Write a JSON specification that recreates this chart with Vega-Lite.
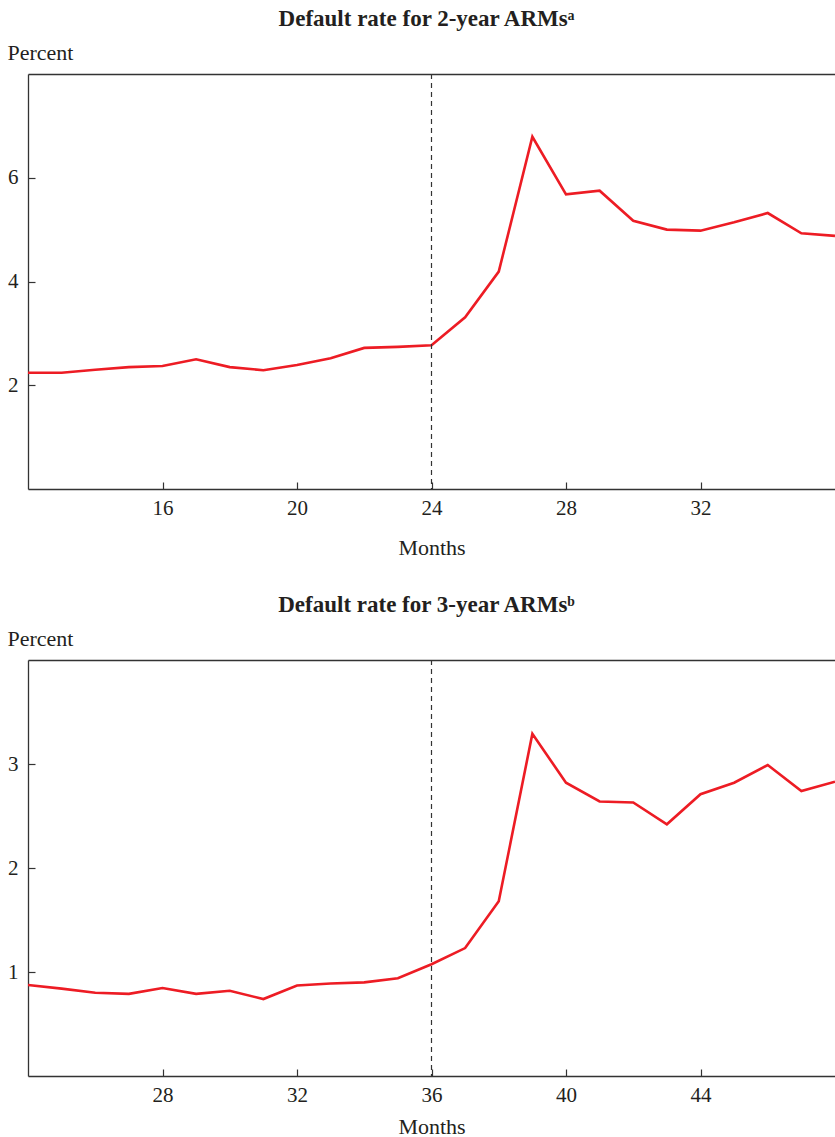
{
  "$schema": "https://vega.github.io/schema/vega-lite/v6.json",
  "padding": {"left": 7, "top": 8, "right": 0, "bottom": 0},
  "background": "white",
  "config": {
    "font": "Liberation Serif",
    "view": {"stroke": null},
    "axis": {
      "grid": false,
      "domainColor": "#333",
      "domainWidth": 1.3,
      "tickColor": "#333",
      "tickWidth": 1.2,
      "tickSize": -7,
      "labelFont": "Liberation Serif",
      "labelFontSize": 21,
      "labelColor": "#231f20",
      "titleFont": "Liberation Serif",
      "titleFontSize": 22,
      "titleFontWeight": "normal",
      "titleColor": "#231f20"
    },
    "title": {"font": "Liberation Serif", "fontSize": 23, "fontWeight": "bold", "color": "#231f20", "frame": "group", "anchor": "middle", "offset": 10, "dx": -5}
  },
  "spacing": 36,
  "vconcat": [
    {
      "title": "Default rate for 2-year ARMsᵃ",
      "width": 807,
      "height": 415,
      "resolve": {"axis": {"x": "independent"}},
      "layer": [
        {
          "data": {"values": [
            {"month": 12, "rate": 2.24}, {"month": 13, "rate": 2.24}, {"month": 14, "rate": 2.30},
            {"month": 15, "rate": 2.35}, {"month": 16, "rate": 2.37}, {"month": 17, "rate": 2.50},
            {"month": 18, "rate": 2.35}, {"month": 19, "rate": 2.29}, {"month": 20, "rate": 2.39},
            {"month": 21, "rate": 2.52}, {"month": 22, "rate": 2.72}, {"month": 23, "rate": 2.74},
            {"month": 24, "rate": 2.77}, {"month": 25, "rate": 3.31}, {"month": 26, "rate": 4.19},
            {"month": 27, "rate": 6.79}, {"month": 28, "rate": 5.68}, {"month": 29, "rate": 5.75},
            {"month": 30, "rate": 5.17}, {"month": 31, "rate": 5.00}, {"month": 32, "rate": 4.98},
            {"month": 33, "rate": 5.14}, {"month": 34, "rate": 5.32}, {"month": 35, "rate": 4.93},
            {"month": 36, "rate": 4.88}
          ]},
          "mark": {"type": "line", "color": "#ed1c24", "strokeWidth": 2.6, "clip": true},
          "encoding": {
            "x": {"field": "month", "type": "quantitative", "scale": {"domain": [12, 36], "nice": false, "zero": false},
                  "axis": {"values": [16, 20, 24, 28, 32], "labelPadding": 15, "title": "Months", "titleY": 65, "titleBaseline": "alphabetic"}},
            "y": {"field": "rate", "type": "quantitative", "scale": {"domain": [0, 8], "nice": false},
                  "axis": {"values": [2, 4, 6], "labelPadding": 17, "title": "Percent", "titleAngle": 0, "titleAlign": "left", "titleBaseline": "alphabetic", "titleX": -21, "titleY": -15}}
          }
        },
        {
          "data": {"values": [{"reset": 24}]},
          "mark": {"type": "rule", "color": "#333", "strokeWidth": 1.2, "strokeDash": [5, 4]},
          "encoding": {
            "x": {"field": "reset", "type": "quantitative", "axis": {"orient": "top", "labels": false, "ticks": false, "title": null, "domain": true}}
          }
        }
      ]
    },
    {
      "title": "Default rate for 3-year ARMsᵇ",
      "width": 807,
      "height": 416,
      "resolve": {"axis": {"x": "independent"}},
      "layer": [
        {
          "data": {"values": [
            {"month": 24, "rate": 0.875}, {"month": 25, "rate": 0.84}, {"month": 26, "rate": 0.80},
            {"month": 27, "rate": 0.79}, {"month": 28, "rate": 0.846}, {"month": 29, "rate": 0.79},
            {"month": 30, "rate": 0.82}, {"month": 31, "rate": 0.74}, {"month": 32, "rate": 0.87},
            {"month": 33, "rate": 0.89}, {"month": 34, "rate": 0.90}, {"month": 35, "rate": 0.94},
            {"month": 36, "rate": 1.075}, {"month": 37, "rate": 1.23}, {"month": 38, "rate": 1.68},
            {"month": 39, "rate": 3.29}, {"month": 40, "rate": 2.82}, {"month": 41, "rate": 2.64},
            {"month": 42, "rate": 2.63}, {"month": 43, "rate": 2.42}, {"month": 44, "rate": 2.71},
            {"month": 45, "rate": 2.82}, {"month": 46, "rate": 2.99}, {"month": 47, "rate": 2.74},
            {"month": 48, "rate": 2.83}
          ]},
          "mark": {"type": "line", "color": "#ed1c24", "strokeWidth": 2.6, "clip": true},
          "encoding": {
            "x": {"field": "month", "type": "quantitative", "scale": {"domain": [24, 48], "nice": false, "zero": false},
                  "axis": {"values": [28, 32, 36, 40, 44], "labelPadding": 15, "title": "Months", "titleY": 57, "titleBaseline": "alphabetic"}},
            "y": {"field": "rate", "type": "quantitative", "scale": {"domain": [0, 4], "nice": false},
                  "axis": {"values": [1, 2, 3], "labelPadding": 17, "title": "Percent", "titleAngle": 0, "titleAlign": "left", "titleBaseline": "alphabetic", "titleX": -21, "titleY": -15}}
          }
        },
        {
          "data": {"values": [{"reset": 36}]},
          "mark": {"type": "rule", "color": "#333", "strokeWidth": 1.2, "strokeDash": [5, 4]},
          "encoding": {
            "x": {"field": "reset", "type": "quantitative", "axis": {"orient": "top", "labels": false, "ticks": false, "title": null, "domain": true}}
          }
        }
      ]
    }
  ]
}
